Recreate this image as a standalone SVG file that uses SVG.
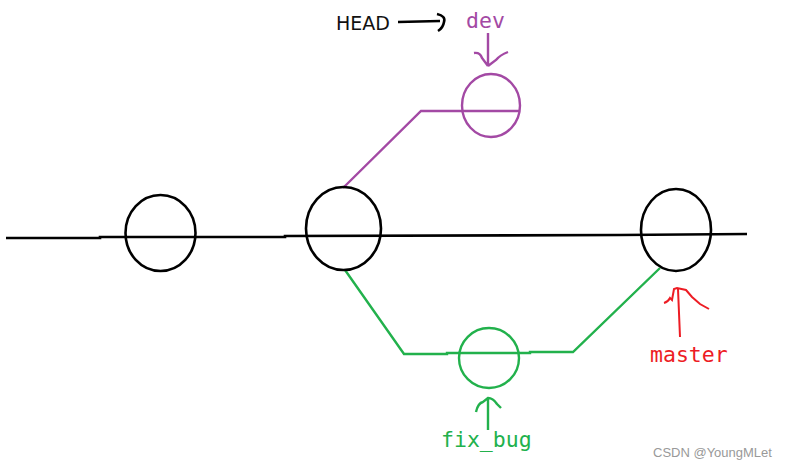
<svg xmlns="http://www.w3.org/2000/svg" width="795" height="468" viewBox="0 0 795 468">
<style>
.k{fill:none;stroke:#000;stroke-width:2.6}
.p{fill:none;stroke:#a349a4;stroke-width:2.4}
.g{fill:none;stroke:#22b14c;stroke-width:2.4}
.r{fill:none;stroke:#ed1c24;stroke-width:2}
.mono{font-family:"DejaVu Sans Mono","Liberation Mono",monospace;font-size:21.5px}
</style>
<rect width="795" height="468" fill="#fff"/>
<g id="connectors">
<polyline class="k" points="6,238 100,238 100,237 285,237 285,236 620,235 747,234"/>
<polyline class="p" points="343,188 421,111 520,111"/>
<polyline class="g" points="345,270 404,354 447,354 447,353 530,353 530,352 573,352 660,268"/>
</g>
<g id="c1"><ellipse class="k" cx="160.5" cy="233" rx="35" ry="38"/></g>
<g id="c2"><ellipse class="k" cx="343.5" cy="228.5" rx="37.5" ry="41.5"/></g>
<g id="c3"><ellipse class="k" cx="676" cy="230" rx="35" ry="41"/></g>
<g id="devnode"><ellipse class="p" cx="491" cy="105.5" rx="29" ry="31.5"/></g>
<g id="fixnode"><ellipse class="g" cx="489" cy="358" rx="30" ry="30"/></g>
<g id="head">
<text x="336" y="30" font-family="'DejaVu Sans',Verdana,sans-serif" font-size="19" fill="#111">HEAD</text>
<path class="k" stroke-width="2" d="M398,22 L440,21 M437,14 Q446,16 444,22 Q443,28 438,31"/>
</g>
<g id="dev">
<text class="mono" x="466" y="28" fill="#a349a4">dev</text>
<path class="p" d="M488,33 L488,66 M474,53 Q480,52 482,58 L488,66 M508,52 Q500,55 496,60 L488,66"/>
</g>
<g id="fix_bug">
<text class="mono" x="441" y="447" fill="#22b14c">fix_bug</text>
<path class="g" d="M488,430 L488,399 M476,412 Q478,403 483,402 L488,398 Q493,398 497,404 L501,408"/>
</g>
<g id="master">
<text class="mono" x="650" y="362" fill="#ed1c24">master</text>
<path class="r" d="M680,337 L678,289 M664,303 Q668,302 670,298 L672,300 L674,289 L677,288 L686,290 L692,297 L700,304 L709,309"/>
</g>
<text x="653" y="457" font-family="'Liberation Sans',Arial,sans-serif" font-size="13" fill="#999">CSDN @YoungMLet</text>
</svg>
